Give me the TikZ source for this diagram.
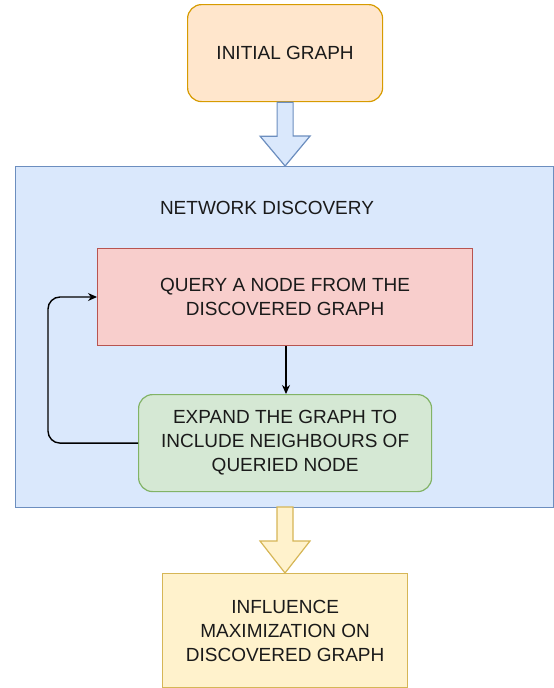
\documentclass[tikz,border=0pt]{standalone}
\usepackage{fontspec}
\setmainfont{Liberation Sans}
\usetikzlibrary{arrows.meta}
\definecolor{orfill}{HTML}{FFE6CC}\definecolor{ordraw}{HTML}{D79B00}
\definecolor{blfill}{HTML}{DAE8FC}\definecolor{bldraw}{HTML}{6C8EBF}
\definecolor{rdfill}{HTML}{F8CECC}\definecolor{rddraw}{HTML}{B85450}
\definecolor{grfill}{HTML}{D5E8D4}\definecolor{grdraw}{HTML}{82B366}
\definecolor{ylfill}{HTML}{FFF2CC}\definecolor{yldraw}{HTML}{D6B656}
\definecolor{txt}{HTML}{1A1A1A}
\tikzset{
  box/.style={draw, line width=1.2pt, align=center, text=txt, inner sep=0pt,
    font=\fontsize{19}{24}\selectfont},
  flow/.style={-{Stealth[length=9pt,width=8pt]}, line width=1.4pt, rounded corners=12pt},
  bigarrow/.style={line width=1.2pt, line join=miter}
}
\begin{document}
\begin{tikzpicture}[x=1pt,y=-1pt]
\useasboundingbox (0,0) rectangle (554,688);
% container
\node[box, fill=blfill, draw=bldraw, minimum width=538pt, minimum height=341pt, anchor=north west] (nd) at (15,166) {};
\node[text=txt, font=\fontsize{19}{24}\selectfont] (ndl) at (267,208) {NETWORK DISCOVERY};
% initial graph
\node[box, fill=orfill, draw=ordraw, rounded corners=14pt, minimum width=195pt, minimum height=97pt, anchor=north west] (ig) at (187,4) {INITIAL GRAPH};
% query
\node[box, fill=rdfill, draw=rddraw, minimum width=375pt, minimum height=97pt, anchor=north west] (q) at (97,248) {QUERY A NODE FROM THE\\DISCOVERED GRAPH};
% expand
\node[box, fill=grfill, draw=grdraw, rounded corners=14pt, minimum width=293pt, minimum height=97pt, anchor=north west] (ex) at (138,394) {EXPAND THE GRAPH TO\\INCLUDE NEIGHBOURS OF\\QUERIED NODE};
% influence
\node[box, fill=ylfill, draw=yldraw, minimum width=245pt, minimum height=114pt, anchor=north west] (im) at (162,573) {INFLUENCE\\MAXIMIZATION ON\\DISCOVERED GRAPH};
% top block arrow
\coordinate (ta) at (ig.south);
\draw[bigarrow, fill=blfill, draw=bldraw]
  ([xshift=-8pt]ta.center) -- ++(0,34) -- ++(-17,0) -- (ta|-nd.north) -- ++(25,-30) -- ++(-17,0) -- ([xshift=8pt]ta.center) -- cycle;
% bottom block arrow
\coordinate (ba) at (285,507);
\draw[bigarrow, fill=ylfill, draw=yldraw]
  ([xshift=-8pt]ba) -- ++(0,34) -- ++(-17,0) -- (ba|-im.north) -- ++(25,-32) -- ++(-17,0) -- ([xshift=8pt]ba) -- cycle;
% inner arrows
\draw[flow] (q.south -| 286,0) -- (ex.north -| 286,0);
\draw[flow] (ex.west) -- ++(-90,0) |- ([yshift=-0pt]q.west |- 0,297);
\end{tikzpicture}
\end{document}
